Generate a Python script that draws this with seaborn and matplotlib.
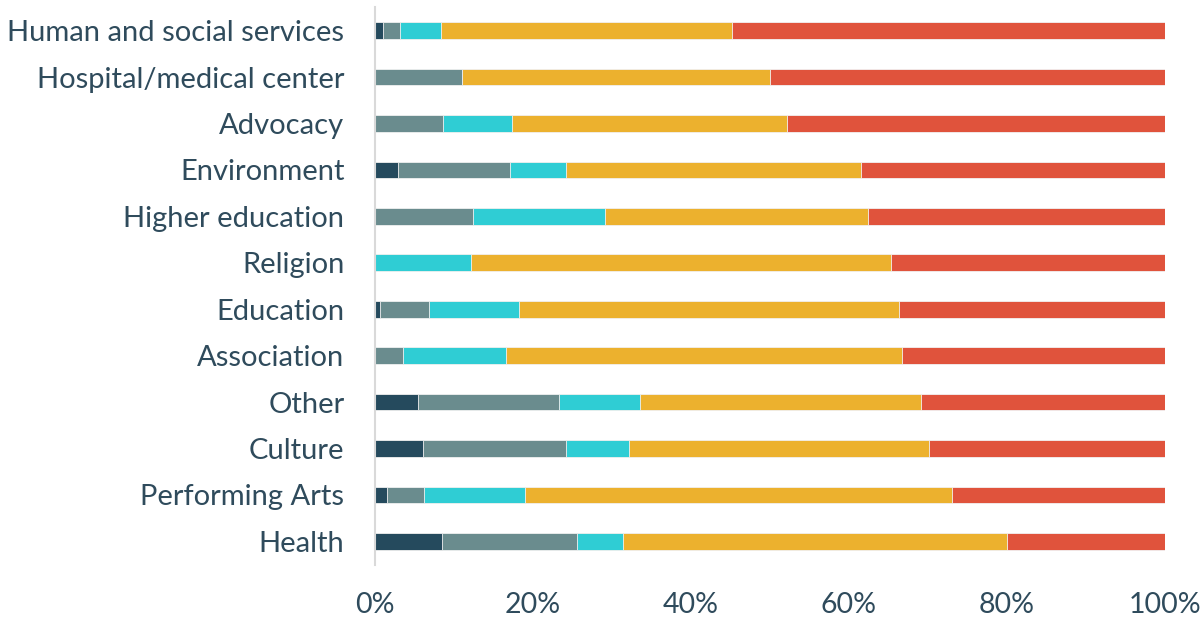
import numpy as np
import pandas as pd
import seaborn as sns
import matplotlib.pyplot as plt
from matplotlib.ticker import PercentFormatter

categories = ["Human and social services", "Hospital/medical center", "Advocacy",
              "Environment", "Higher education", "Religion", "Education",
              "Association", "Other", "Culture", "Performing Arts", "Health"]

# share of each segment (%), left to right
seg1 = [1.0, 0.0, 0.0, 2.9, 0.0, 0.0, 0.6, 0.0, 5.5, 6.1, 1.5, 8.5]
seg2 = [2.1, 11.0, 8.6, 14.2, 12.4, 0.0, 6.2, 3.6, 17.8, 18.1, 4.7, 17.1]
seg3 = [5.3, 0.0, 8.7, 7.1, 16.7, 12.2, 11.4, 13.0, 10.2, 8.0, 12.8, 5.8]
seg4 = [36.8, 39.0, 34.9, 37.4, 33.3, 53.1, 48.1, 50.1, 35.6, 38.0, 54.0, 48.6]
seg5 = [54.8, 50.0, 47.8, 38.4, 37.6, 34.7, 33.7, 33.3, 30.9, 29.8, 27.0, 20.0]

colors = ["#254a5d", "#6a8c8e", "#2fcdd4", "#ecb12e", "#e0533c"]
text_col = "#2f4b5c"

df = pd.DataFrame({"cat": categories, "s1": seg1, "s2": seg2, "s3": seg3,
                   "s4": seg4, "s5": seg5})
cols = ["s1", "s2", "s3", "s4", "s5"]
cum = df[cols].cumsum(axis=1)

sns.set_style("white")
plt.rcParams["font.family"] = ["Lato", "DejaVu Sans"]

fig = plt.figure(figsize=(12.02, 6.19), dpi=100)
ax = fig.add_axes([0.312, 0.088, 0.657, 0.9])

# draw cumulative totals back to front so the segments stack
for c, col in reversed(list(zip(colors, cols))):
    sns.barplot(x=cum[col], y=df["cat"], color=c, width=0.36, orient="h",
                edgecolor="#f2f2f2", linewidth=0.6, saturation=1, ax=ax)

ax.set_xlim(0, 100)
ax.set_ylim(11.5, -0.5)
ax.set_xticks([0, 20, 40, 60, 80, 100])
ax.xaxis.set_major_formatter(PercentFormatter(decimals=0))
ax.set_xlabel("")
ax.set_ylabel("")
ax.tick_params(axis="x", length=0, pad=20, labelsize=20.5, labelcolor=text_col)
ax.tick_params(axis="y", length=0, pad=22, labelsize=21, labelcolor=text_col)
for s in ["top", "right", "bottom"]:
    ax.spines[s].set_visible(False)
ax.spines["left"].set_color("#d9d9d9")
ax.spines["left"].set_linewidth(1.5)

fig.savefig("out.png", dpi=100)
